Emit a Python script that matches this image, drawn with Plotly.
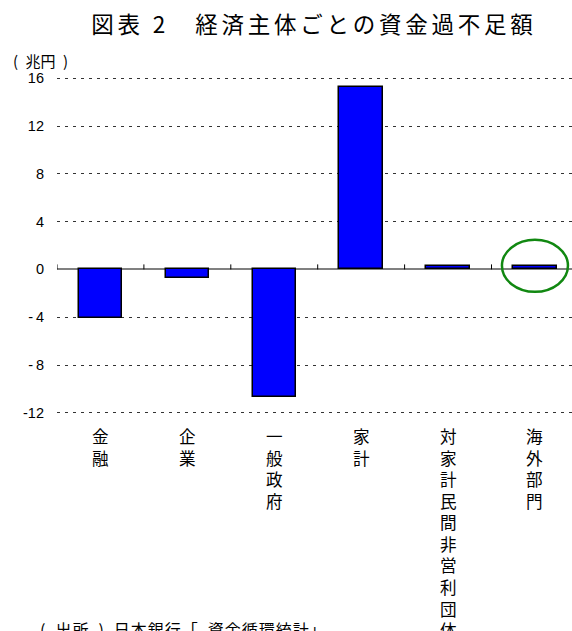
import plotly.graph_objects as go

# 資金過不足額（兆円）
sectors = ["金融", "企業", "一般政府", "家計", "対家計民間非営利団体", "海外部門"]
values = [-4.1, -0.7, -10.7, 15.3, 0.3, 0.3]
y_ticks = [-12, -8, -4, 0, 4, 8, 12, 16]
y_tick_text = ["-12", "-\u20098", "-\u20094", "0", "4", "8", "12", "16"]

title_text = "図表 2　経済主体ごとの資金過不足額"
unit_text = "(\u2002兆円\u2002)"
source_text = "(\u2002出所\u2002)\u2002日本銀行「\u2002資金循環統計」"
highlight = "海外部門"

JP = "Noto Sans CJK JP"
NUM = "Liberation Sans, Arial, sans-serif"


def spaced(s, sp="\u2006"):
    return sp.join(s)


x = list(range(len(sectors)))

fig = go.Figure()
fig.add_trace(go.Bar(
    x=x, y=values, width=0.5,
    marker=dict(color="#0000FF", line=dict(color="#000000", width=1.5)),
    hoverinfo="skip",
))

W, H = 572, 631
m_l, m_t, m_b = 57, 77, 217
plot_w, plot_h = W - m_l, H - m_t - m_b
cat_px = 86.9
x_end = -0.5 + plot_w / cat_px
y_pad = 0.1


def px_x(px):
    return (px - m_l) / plot_w


def px_y(py):
    return (H - m_b - py) / plot_h


fig.update_layout(
    width=W, height=H,
    margin=dict(l=m_l, r=0, t=m_t, b=m_b, pad=0),
    plot_bgcolor="white", paper_bgcolor="white",
    showlegend=False,
    bargap=0,
    xaxis=dict(
        range=[-0.5, x_end], showgrid=False, zeroline=False,
        showticklabels=False, ticks="", showline=False, fixedrange=True,
    ),
    yaxis=dict(
        range=[y_ticks[0] - y_pad, y_ticks[-1] + y_pad],
        tickvals=y_ticks, ticktext=y_tick_text,
        showgrid=True, gridcolor="#333333", gridwidth=1, griddash="3px,5px",
        zeroline=True, zerolinecolor="#808080", zerolinewidth=1.6,
        showline=False, ticks="", ticklabelstandoff=12,
        tickfont=dict(family=NUM, size=14.5, color="#000000"),
        fixedrange=True,
    ),
    title=dict(
        text=spaced(title_text), xref="container", yref="container",
        x=312 / W, y=1 - 25 / H, xanchor="center", yanchor="middle",
        font=dict(family=JP, size=22.5, color="#000000"),
    ),
)

# small tick marks on the zero line at category boundaries
for i in range(len(sectors)):
    fig.add_shape(
        type="line", xref="x", yref="y", x0=i - 0.5, x1=i - 0.5,
        ysizemode="pixel", yanchor=0, y0=0, y1=5,
        line=dict(color="#000000", width=1),
    )

# vertical category labels, one character per line
label_size = 16.6   # 1.3 x size gives the 21.6px line step
for i, name in enumerate(sectors):
    fig.add_annotation(
        x=i, y=0, xref="x", yref="paper", text="<br>".join(name),
        showarrow=False, xanchor="center", yanchor="top", yshift=-8,
        font=dict(family=JP, size=label_size, color="#000000"),
    )

# unit label
fig.add_annotation(
    x=px_x(12), y=px_y(61), xref="paper", yref="paper",
    text=unit_text, showarrow=False, xanchor="left", yanchor="middle",
    borderpad=0,
    font=dict(family=JP, size=15, color="#000000"),
)

# source note
fig.add_annotation(
    x=px_x(38), y=px_y(629), xref="paper", yref="paper",
    text=spaced(source_text, "\u200a"), showarrow=False,
    xanchor="left", yanchor="middle",
    font=dict(family=JP, size=16, color="#000000"),
)

# green ring around the highlighted sector
k = sectors.index(highlight)
fig.add_shape(
    type="circle", xref="x", yref="y",
    xsizemode="pixel", xanchor=k, x0=-33, x1=33,
    ysizemode="pixel", yanchor=values[k], y0=-26, y1=26,
    line=dict(color="#118811", width=2.5),
)

fig.write_html("out.html")
